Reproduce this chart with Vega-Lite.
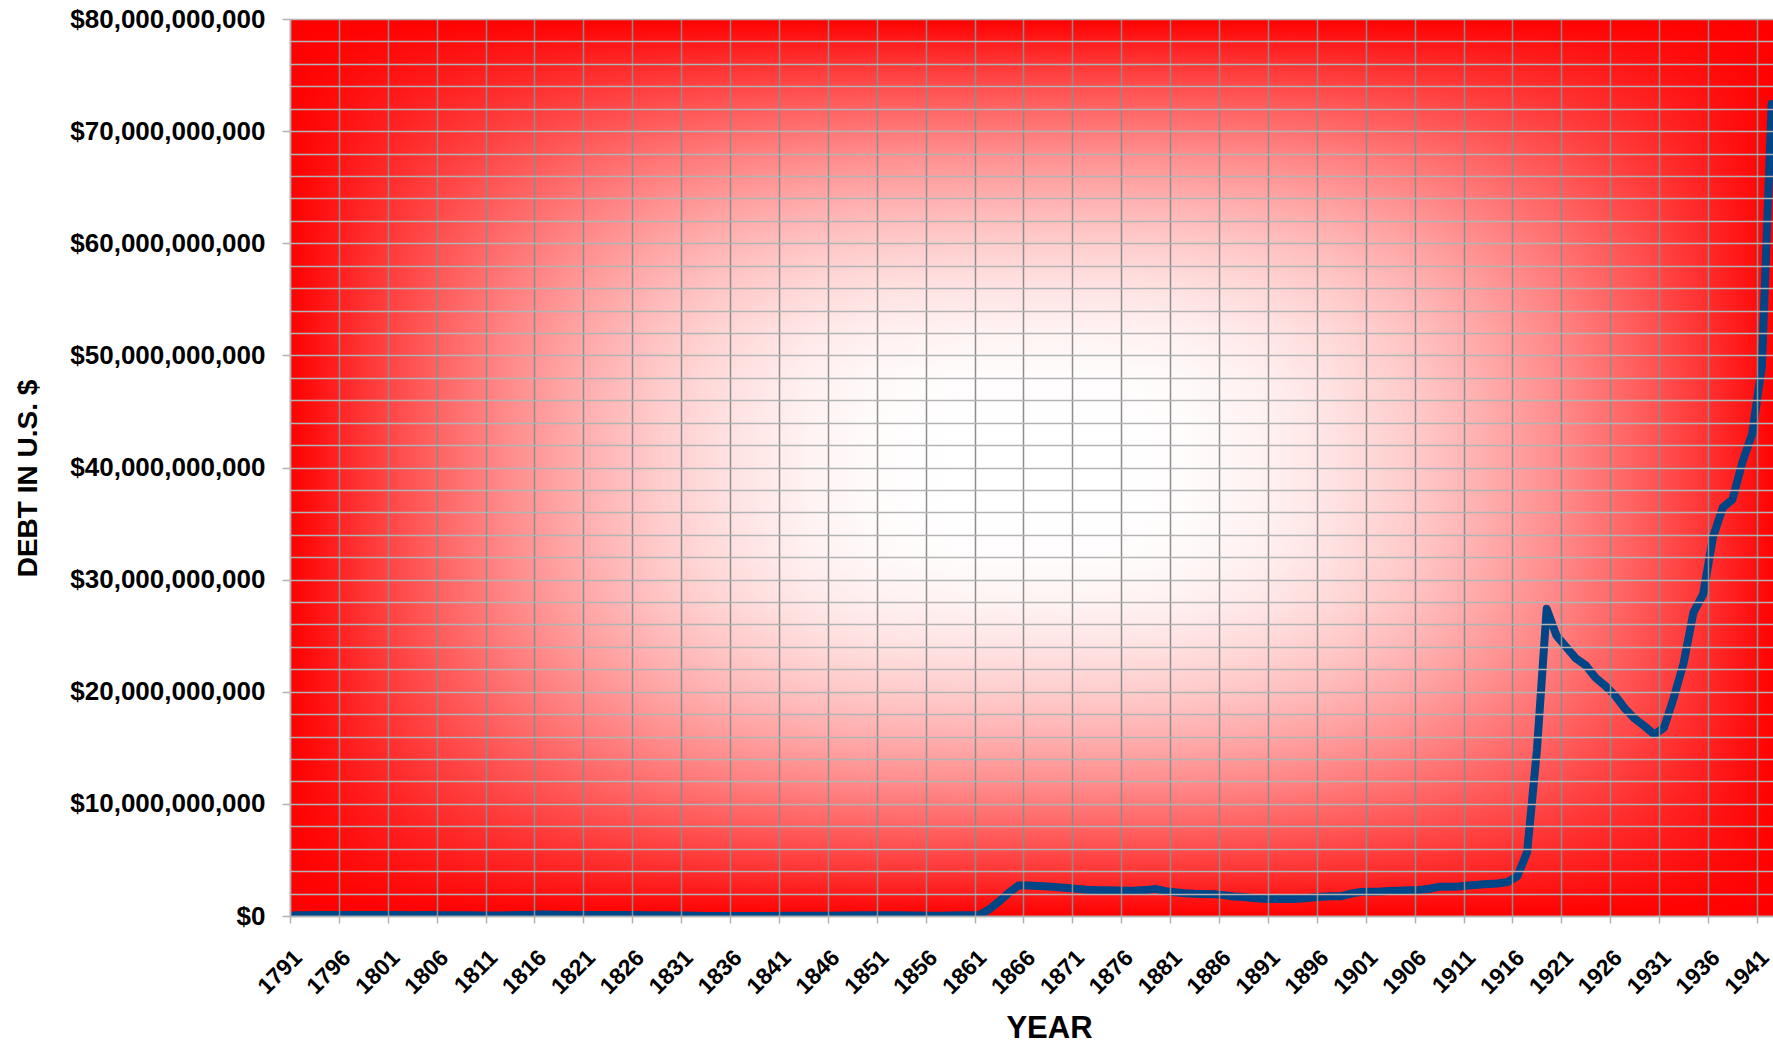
{
  "$schema": "https://vega.github.io/schema/vega-lite/v6.json",
  "background": "white",
  "autosize": {"type": "none"},
  "padding": {"left": 290, "top": 19, "right": 0, "bottom": 127},
  "width": 1483,
  "height": 897,
  "config": {
    "view": {"stroke": null},
    "font": "Liberation Sans",
    "axis": {"labelFont": "Liberation Sans", "titleFont": "Liberation Sans", "labelOverlap": false, "labelFlush": false, "labelBound": false, "labelLimit": 0}
  },
  "resolve": {"axis": {"y": "independent"}},
  "layer": [
    {
      "data": {"values": [{}]},
      "mark": {
        "type": "rect",
        "clip": true,
        "fill": {
          "gradient": "linear", "x1": 0, "y1": 0, "x2": 1, "y2": 0,
          "stops": [
            {"offset": 0, "color": "#ff0000"},
            {"offset": 0.05, "color": "#ff3636"},
            {"offset": 0.1, "color": "#ff6565"},
            {"offset": 0.15, "color": "#ff8e8e"},
            {"offset": 0.2, "color": "#ffb0b0"},
            {"offset": 0.25, "color": "#ffcdcd"},
            {"offset": 0.3, "color": "#ffe3e3"},
            {"offset": 0.35, "color": "#fff3f3"},
            {"offset": 0.4, "color": "#fffcfc"},
            {"offset": 0.45, "color": "#ffffff"},
            {"offset": 0.55, "color": "#ffffff"},
            {"offset": 0.6, "color": "#fffcfc"},
            {"offset": 0.65, "color": "#fff3f3"},
            {"offset": 0.7, "color": "#ffe3e3"},
            {"offset": 0.75, "color": "#ffcdcd"},
            {"offset": 0.8, "color": "#ffb0b0"},
            {"offset": 0.85, "color": "#ff8e8e"},
            {"offset": 0.9, "color": "#ff6565"},
            {"offset": 0.95, "color": "#ff3636"},
            {"offset": 1, "color": "#ff0000"}
          ]
        }
      },
      "encoding": {
        "x": {"datum": 1790.5, "type": "quantitative", "scale": {"domain": [1790.5, 1942.14], "nice": false, "zero": false}},
        "x2": {"datum": 1942.5},
        "y": {
          "datum": 0, "type": "quantitative",
          "scale": {"domain": [0, 80000000000], "nice": false},
          "axis": {
            "orient": "right",
            "zindex": 1,
            "values": [0, 2000000000, 4000000000, 6000000000, 8000000000, 10000000000, 12000000000, 14000000000, 16000000000, 18000000000, 20000000000, 22000000000, 24000000000, 26000000000, 28000000000, 30000000000, 32000000000, 34000000000, 36000000000, 38000000000, 40000000000, 42000000000, 44000000000, 46000000000, 48000000000, 50000000000, 52000000000, 54000000000, 56000000000, 58000000000, 60000000000, 62000000000, 64000000000, 66000000000, 68000000000, 70000000000, 72000000000, 74000000000, 76000000000, 78000000000, 80000000000],
            "grid": true,
            "gridColor": "#b3b3b3",
            "gridWidth": 1.5,
            "labels": false,
            "ticks": false,
            "domain": false,
            "title": null
          }
        },
        "y2": {"datum": 80000000000}
      }
    },
    {
      "data": {"values": [{}]},
      "mark": {
        "type": "rect",
        "clip": true,
        "fill": {
          "gradient": "linear", "x1": 0, "y1": 0, "x2": 0, "y2": 1,
          "stops": [
            {"offset": 0, "color": "rgba(255,0,0,1)"},
            {"offset": 0.05, "color": "rgba(255,0,0,0.79)"},
            {"offset": 0.1, "color": "rgba(255,0,0,0.605)"},
            {"offset": 0.15, "color": "rgba(255,0,0,0.444)"},
            {"offset": 0.2, "color": "rgba(255,0,0,0.309)"},
            {"offset": 0.25, "color": "rgba(255,0,0,0.198)"},
            {"offset": 0.3, "color": "rgba(255,0,0,0.111)"},
            {"offset": 0.35, "color": "rgba(255,0,0,0.049)"},
            {"offset": 0.4, "color": "rgba(255,0,0,0.012)"},
            {"offset": 0.45, "color": "rgba(255,0,0,0)"},
            {"offset": 0.55, "color": "rgba(255,0,0,0)"},
            {"offset": 0.6, "color": "rgba(255,0,0,0.012)"},
            {"offset": 0.65, "color": "rgba(255,0,0,0.049)"},
            {"offset": 0.7, "color": "rgba(255,0,0,0.111)"},
            {"offset": 0.75, "color": "rgba(255,0,0,0.198)"},
            {"offset": 0.8, "color": "rgba(255,0,0,0.309)"},
            {"offset": 0.85, "color": "rgba(255,0,0,0.444)"},
            {"offset": 0.9, "color": "rgba(255,0,0,0.605)"},
            {"offset": 0.95, "color": "rgba(255,0,0,0.79)"},
            {"offset": 1, "color": "rgba(255,0,0,1)"}
          ]
        }
      },
      "encoding": {
        "x": {"datum": 1790.5, "type": "quantitative"},
        "x2": {"datum": 1942.5},
        "y": {"datum": 0, "type": "quantitative", "axis": null},
        "y2": {"datum": 80000000000}
      }
    },
    {
      "data": {
        "values": [
          {"year": 1791, "debt": 75463476}, {"year": 1792, "debt": 77227925}, {"year": 1793, "debt": 80352634},
          {"year": 1794, "debt": 78427405}, {"year": 1795, "debt": 80747587}, {"year": 1796, "debt": 83762172},
          {"year": 1797, "debt": 82064479}, {"year": 1798, "debt": 79228529}, {"year": 1799, "debt": 78408670},
          {"year": 1800, "debt": 82976294}, {"year": 1801, "debt": 83038051}, {"year": 1802, "debt": 80712632},
          {"year": 1803, "debt": 77054686}, {"year": 1804, "debt": 86427121}, {"year": 1805, "debt": 82312151},
          {"year": 1806, "debt": 75723271}, {"year": 1807, "debt": 69218399}, {"year": 1808, "debt": 65196318},
          {"year": 1809, "debt": 57023192}, {"year": 1810, "debt": 53173218}, {"year": 1811, "debt": 48005588},
          {"year": 1812, "debt": 45209738}, {"year": 1813, "debt": 55962828}, {"year": 1814, "debt": 81487846},
          {"year": 1815, "debt": 99833660}, {"year": 1816, "debt": 127334934}, {"year": 1817, "debt": 123491965},
          {"year": 1818, "debt": 103466634}, {"year": 1819, "debt": 95529648}, {"year": 1820, "debt": 91015566},
          {"year": 1821, "debt": 89987428}, {"year": 1822, "debt": 93546677}, {"year": 1823, "debt": 90875877},
          {"year": 1824, "debt": 90269778}, {"year": 1825, "debt": 83788433}, {"year": 1826, "debt": 81054060},
          {"year": 1827, "debt": 73987357}, {"year": 1828, "debt": 67475044}, {"year": 1829, "debt": 58421414},
          {"year": 1830, "debt": 48565406}, {"year": 1831, "debt": 39123192}, {"year": 1832, "debt": 24322235},
          {"year": 1833, "debt": 7001699}, {"year": 1834, "debt": 4760082}, {"year": 1835, "debt": 37733},
          {"year": 1836, "debt": 336958}, {"year": 1837, "debt": 3308124}, {"year": 1838, "debt": 10434221},
          {"year": 1839, "debt": 3573344}, {"year": 1840, "debt": 5250876}, {"year": 1841, "debt": 13594481},
          {"year": 1842, "debt": 20201226}, {"year": 1843, "debt": 32742922}, {"year": 1844, "debt": 23461653},
          {"year": 1845, "debt": 15925303}, {"year": 1846, "debt": 15550203}, {"year": 1847, "debt": 38826535},
          {"year": 1848, "debt": 47044862}, {"year": 1849, "debt": 63061859}, {"year": 1850, "debt": 63452774},
          {"year": 1851, "debt": 68304796}, {"year": 1852, "debt": 66199342}, {"year": 1853, "debt": 59803118},
          {"year": 1854, "debt": 42242223}, {"year": 1855, "debt": 35586957}, {"year": 1856, "debt": 31972537},
          {"year": 1857, "debt": 28699832}, {"year": 1858, "debt": 44911881}, {"year": 1859, "debt": 58496837},
          {"year": 1860, "debt": 64842288}, {"year": 1861, "debt": 90580874}, {"year": 1862, "debt": 600000000},
          {"year": 1863, "debt": 1300000000}, {"year": 1864, "debt": 2080000000}, {"year": 1865, "debt": 2720000000},
          {"year": 1866, "debt": 2720000000}, {"year": 1867, "debt": 2670000000}, {"year": 1868, "debt": 2630000000},
          {"year": 1869, "debt": 2570000000}, {"year": 1870, "debt": 2490000000}, {"year": 1871, "debt": 2420000000},
          {"year": 1872, "debt": 2350000000}, {"year": 1873, "debt": 2310000000}, {"year": 1874, "debt": 2300000000},
          {"year": 1875, "debt": 2280000000}, {"year": 1876, "debt": 2250000000}, {"year": 1877, "debt": 2270000000},
          {"year": 1878, "debt": 2310000000}, {"year": 1879, "debt": 2420000000}, {"year": 1880, "debt": 2220000000},
          {"year": 1881, "debt": 2110000000}, {"year": 1882, "debt": 2020000000}, {"year": 1883, "debt": 1980000000},
          {"year": 1884, "debt": 1960000000}, {"year": 1885, "debt": 1950000000}, {"year": 1886, "debt": 1860000000},
          {"year": 1887, "debt": 1740000000}, {"year": 1888, "debt": 1700000000}, {"year": 1889, "debt": 1600000000},
          {"year": 1890, "debt": 1540000000}, {"year": 1891, "debt": 1520000000}, {"year": 1892, "debt": 1520000000},
          {"year": 1893, "debt": 1520000000}, {"year": 1894, "debt": 1570000000}, {"year": 1895, "debt": 1640000000},
          {"year": 1896, "debt": 1710000000}, {"year": 1897, "debt": 1770000000}, {"year": 1898, "debt": 1770000000},
          {"year": 1899, "debt": 2000000000}, {"year": 1900, "debt": 2140000000}, {"year": 1901, "debt": 2160000000},
          {"year": 1902, "debt": 2180000000}, {"year": 1903, "debt": 2220000000}, {"year": 1904, "debt": 2260000000},
          {"year": 1905, "debt": 2290000000}, {"year": 1906, "debt": 2330000000}, {"year": 1907, "debt": 2430000000},
          {"year": 1908, "debt": 2600000000}, {"year": 1909, "debt": 2610000000}, {"year": 1910, "debt": 2640000000},
          {"year": 1911, "debt": 2720000000}, {"year": 1912, "debt": 2780000000}, {"year": 1913, "debt": 2860000000},
          {"year": 1914, "debt": 2900000000}, {"year": 1915, "debt": 3030000000}, {"year": 1916, "debt": 3550000000},
          {"year": 1917, "debt": 5700000000}, {"year": 1918, "debt": 14800000000}, {"year": 1919, "debt": 27400000000},
          {"year": 1920, "debt": 25000000000}, {"year": 1921, "debt": 23980000000}, {"year": 1922, "debt": 22960000000},
          {"year": 1923, "debt": 22350000000}, {"year": 1924, "debt": 21250000000}, {"year": 1925, "debt": 20520000000},
          {"year": 1926, "debt": 19640000000}, {"year": 1927, "debt": 18510000000}, {"year": 1928, "debt": 17600000000},
          {"year": 1929, "debt": 16930000000}, {"year": 1930, "debt": 16190000000}, {"year": 1931, "debt": 16800000000},
          {"year": 1932, "debt": 19490000000}, {"year": 1933, "debt": 22540000000}, {"year": 1934, "debt": 27050000000},
          {"year": 1935, "debt": 28700000000}, {"year": 1936, "debt": 33780000000}, {"year": 1937, "debt": 36420000000},
          {"year": 1938, "debt": 37160000000}, {"year": 1939, "debt": 40440000000}, {"year": 1940, "debt": 42970000000},
          {"year": 1941, "debt": 48960000000}, {"year": 1942, "debt": 72420000000}
        ]
      },
      "mark": {"type": "line", "stroke": "#004586", "strokeWidth": 8, "strokeCap": "round", "strokeJoin": "round", "clip": true},
      "encoding": {
        "x": {
          "field": "year", "type": "quantitative",
          "axis": {
            "zindex": 1,
            "values": [1790.5, 1795.5, 1800.5, 1805.5, 1810.5, 1815.5, 1820.5, 1825.5, 1830.5, 1835.5, 1840.5, 1845.5, 1850.5, 1855.5, 1860.5, 1865.5, 1870.5, 1875.5, 1880.5, 1885.5, 1890.5, 1895.5, 1900.5, 1905.5, 1910.5, 1915.5, 1920.5, 1925.5, 1930.5, 1935.5, 1940.5],
            "labelExpr": "format(datum.value + 0.5, 'd')",
            "labelAngle": -45,
            "labelFontSize": 23,
            "labelFontWeight": "bold",
            "labelColor": "#000000",
            "labelPadding": 23,
            "labelLimit": 0,
            "labelOverlap": false,
            "labelFlush": false,
            "labelBound": false,
            "tickSize": 7,
            "tickColor": "#b3b3b3",
            "tickWidth": 1.5,
            "domainColor": "#b3b3b3",
            "domainWidth": 1.5,
            "grid": true,
            "gridColor": "#8c8c8c",
            "gridWidth": 1.5,
            "title": "YEAR",
            "titleFontSize": 31,
            "titleFontWeight": "bold",
            "titleColor": "#000000",
            "titleX": 759,
            "titleY": 121,
            "titleAlign": "center",
            "titleBaseline": "alphabetic"
          }
        },
        "y": {
          "field": "debt", "type": "quantitative",
          "axis": {
            "orient": "left",
            "zindex": 1,
            "values": [0, 10000000000, 20000000000, 30000000000, 40000000000, 50000000000, 60000000000, 70000000000, 80000000000],
            "format": "$,.0f",
            "labelFontSize": 26,
            "labelFontWeight": "bold",
            "labelColor": "#000000",
            "labelPadding": 17,
            "labelLimit": 0,
            "labelOverlap": false,
            "labelFlush": false,
            "labelBound": false,
            "tickSize": 8,
            "tickColor": "#b3b3b3",
            "tickWidth": 1.5,
            "domainColor": "#b3b3b3",
            "domainWidth": 1.5,
            "grid": false,
            "title": "DEBT IN U.S. $",
            "titleFontSize": 28,
            "titleFontWeight": "bold",
            "titleColor": "#000000",
            "titleAngle": 270,
            "titleX": -254,
            "titleY": 459,
            "titleAlign": "center",
            "titleBaseline": "alphabetic"
          }
        }
      }
    }
  ]
}
